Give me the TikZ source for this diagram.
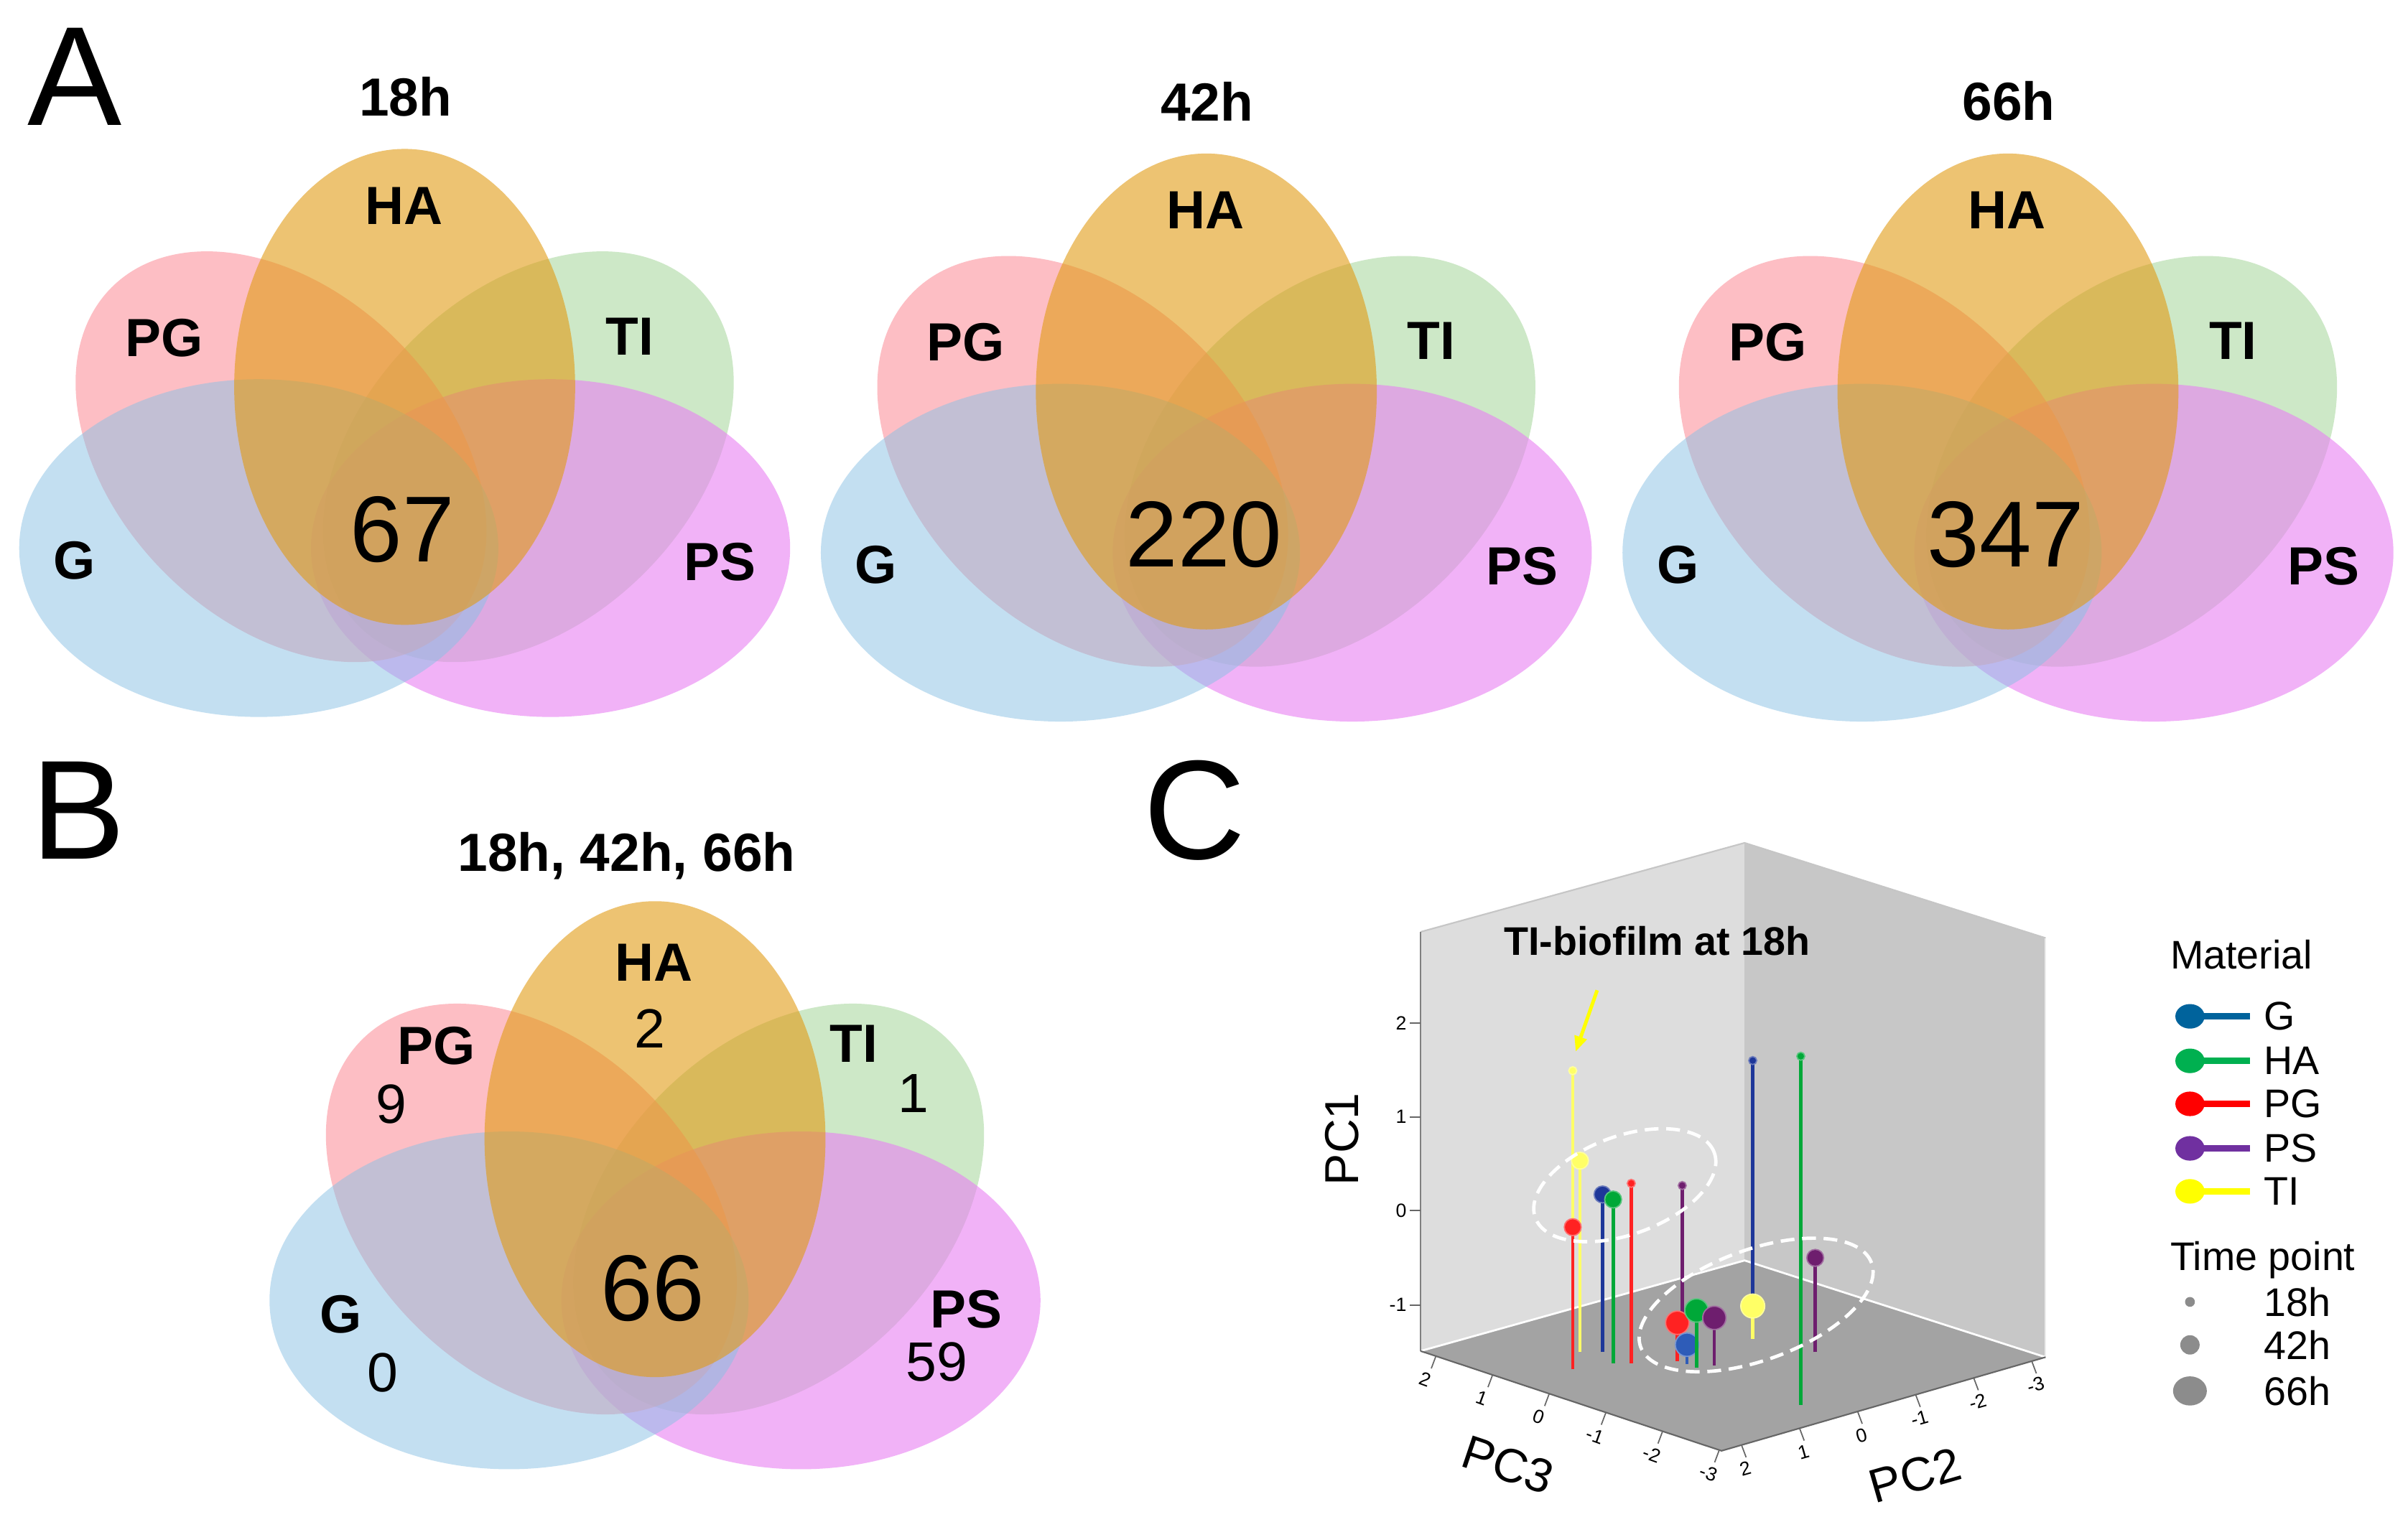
\documentclass[tikz,border=0pt]{standalone}
\usepackage{fontspec}
\setmainfont{Liberation Sans}
\usetikzlibrary{arrows.meta}

\definecolor{vG}{RGB}{137,193,229}
\definecolor{vPG}{RGB}{252,147,157}
\definecolor{vHA}{RGB}{225,155,20}
\definecolor{vTI}{RGB}{173,217,163}
\definecolor{vPS}{RGB}{233,127,243}
\definecolor{pG}{RGB}{30,55,153}
\definecolor{pGl}{RGB}{46,92,184}
\definecolor{pHA}{RGB}{0,168,56}
\definecolor{pPG}{RGB}{255,34,34}
\definecolor{pPS}{RGB}{110,30,110}
\definecolor{pTI}{RGB}{255,255,102}
\definecolor{lG}{RGB}{0,99,156}
\definecolor{lHA}{RGB}{0,176,80}
\definecolor{lPG}{RGB}{255,0,0}
\definecolor{lPS}{RGB}{112,48,160}
\definecolor{lTI}{RGB}{255,255,0}
\definecolor{lgray}{RGB}{140,140,140}
\definecolor{wallL}{RGB}{221,221,221}
\definecolor{wallR}{RGB}{199,199,199}
\definecolor{floorC}{RGB}{163,163,163}

\newcommand{\setfs}[1]{\fontsize{#1}{#1}\selectfont}

\newcommand{\vennshapes}[2]{%
 \begin{scope}[shift={(#1,#2)}]
  \begin{scope}[shift={(344,297.5)},rotate=45]\fill[vTI,fill opacity=.6] (0,0) ellipse [x radius=156pt,y radius=107pt];\end{scope}
  \fill[vPS,fill opacity=.6] (358.5,357) ellipse [x radius=156pt,y radius=110pt];
  \begin{scope}[shift={(183,297.5)},rotate=-45]\fill[vPG,fill opacity=.6] (0,0) ellipse [x radius=156pt,y radius=107pt];\end{scope}
  \fill[vG,fill opacity=.5] (168.5,357) ellipse [x radius=156pt,y radius=110pt];
  \fill[vHA,fill opacity=.6] (263.5,252) ellipse [x radius=111pt,y radius=155pt];
 \end{scope}}

\newcommand{\venntext}[5]{%
 \begin{scope}[shift={(#1,#2)}]
  \node[vlab] (#3t) at (264,63) {#4};
  \node[vlab] (#3HA) at (263,134) {HA};
  \node[vlab] (#3PG) at (107,220) {PG};
  \node[vlab] (#3TI) at (410,219) {TI};
  \node[vlab] (#3G) at (48.5,365) {G};
  \node[vlab] (#3PS) at (469,366) {PS};
  \node[vnum] (#3n) at (262,345) {#5};
 \end{scope}}

% color, dot color, x, top, bottom, radius
\newcommand{\lolli}[6]{%
  \draw[#1, line width=2.2pt] (#3,#5) -- (#3,#4);
  \fill[#2, draw=#2!65!white, line width=0.8pt] (#3,#4) circle[radius=#6pt];}

\begin{document}
\begin{tikzpicture}[x=1pt,y=-1pt,
  vlab/.style={font={\setfs{35}\bfseries}, inner sep=0pt},
  vnum/.style={font={\setfs{61}}, inner sep=0pt},
  bnum/.style={font={\setfs{36}}, inner sep=0pt},
  panel/.style={font={\setfs{92}}, inner sep=0pt},
  axl/.style={font={\setfs{31}}, inner sep=0pt},
  tickl/.style={font={\setfs{12.5}}, inner sep=0pt},
  leg/.style={font={\setfs{26}}, inner sep=0pt},
  dashell/.style={white, line width=2.2pt, dash pattern=on 9pt off 5pt}]
\useasboundingbox (0,0) rectangle (1568,988);
\fill[white] (0,0) rectangle (1568,988);

% ---------- panel letters
\node[panel] (labA) at (48.5,50) {A};
\node[panel] (labB) at (51,528) {B};
\node[panel] (labC) at (778,528) {C};

% ---------- panel A
\vennshapes{0}{0}
\vennshapes{522}{3}
\vennshapes{1044}{3}
\venntext{0}{0}{a}{18h}{67}
\venntext{522}{3}{b}{42h}{220}
\venntext{1044}{3}{c}{66h}{347}

% ---------- panel B
\vennshapes{163}{490}
\node[vlab, anchor=base] (bt) at (408,567.5) {18h, 42h, 66h};
\node[vlab] (bHA) at (426,627) {HA};
\node[bnum] (bHAn) at (423,670) {2};
\node[vlab] (bPG) at (284,681) {PG};
\node[bnum] (bPGn) at (255,719) {9};
\node[vlab] (bTI) at (556,680) {TI};
\node[bnum] (bTIn) at (595,712) {1};
\node[vlab] (bG) at (222,856) {G};
\node[bnum] (bGn) at (249,894) {0};
\node[vlab] (bPS) at (629,853) {PS};
\node[bnum] (bPSn) at (610,887) {59};
\node[vnum] (bn) at (425,839) {66};

% ---------- panel C: box
\coordinate (LT) at (925,607);
\coordinate (BT) at (1136,549);
\coordinate (RT) at (1332,611);
\coordinate (LB) at (925,880);
\coordinate (BB) at (1136,821);
\coordinate (RB) at (1332,884);
\coordinate (FB) at (1121,945);
\fill[wallL] (LT) -- (BT) -- (BB) -- (LB) -- cycle;
\fill[wallR] (BT) -- (RT) -- (RB) -- (BB) -- cycle;
\fill[floorC] (LB) -- (BB) -- (RB) -- (FB) -- cycle;
\draw[gray!45, line width=1pt] (LT) -- (BT) -- (RT);
\draw[white, line width=1.3pt] (LB) -- (BB) -- (RB);
\draw[white!85!gray, line width=1pt] (RT) -- (RB);
\draw[gray, line width=1pt] (LT) -- (LB);
\draw[gray!80!black, line width=1pt] (LB) -- (FB) -- (RB);

% PC1 ticks
\foreach \v/\yy in {2/666.5,1/727.5,0/788.5,-1/850}{
  \draw[gray!80!black, line width=0.8pt] (918,\yy) -- (925,\yy);
  \node[tickl, anchor=east] (pc1t\v) at (916,\yy) {\v};
}
% PC3 ticks
\foreach \v [count=\i from 0] in {2,1,0,-1,-2,-3}{
  \pgfmathsetmacro{\tx}{935+36.9*\i}
  \pgfmathsetmacro{\ty}{880+(\tx-925)*65/196}
  \draw[gray!80!black, line width=0.8pt] (\tx,\ty) -- ++(-3,8);
  \node[tickl, rotate=-20] (pc3t\i) at (\tx-7,\ty+15) {\v};
}
% PC2 ticks
\foreach \v [count=\i from 0] in {2,1,0,-1,-2,-3}{
  \pgfmathsetmacro{\tx}{1134+37.8*\i}
  \pgfmathsetmacro{\ty}{945-(\tx-1121)*61/211}
  \draw[gray!80!black, line width=0.8pt] (\tx,\ty) -- ++(3,8);
  \node[tickl, rotate=16] (pc2t\i) at (\tx+2.5,\ty+15.5) {\v};
}
\node[axl, rotate=90] (pc1) at (874,742) {PC1};
\node[axl, rotate=-18.6] (pc3) at (982,954) {PC3};
\node[axl, rotate=16] (pc2) at (1247,961) {PC2};

% lollipops (back to front)
\lolli{pTI}{pTI}{1024.1}{697.4}{880.7}{2.6}
\lolli{pTI}{pTI}{1028.8}{756}{880.7}{5.5}
\lolli{pPG}{pPG}{1024.1}{799.3}{892}{5.5}
\lolli{pG}{pG}{1043.5}{778}{880.7}{5.5}
\lolli{pHA}{pHA}{1050.4}{781.3}{887.9}{5.5}
\lolli{pPG}{pPG}{1062.2}{770.8}{887.9}{2.6}
\lolli{pPS}{pPS}{1095.4}{772.2}{879}{2.6}
\lolli{pG}{pG}{1141.3}{690.8}{845}{2.6}
\lolli{pHA}{pHA}{1172.6}{688}{915}{2.6}
\lolli{pPS}{pPS}{1182}{819.3}{880.7}{5.5}
\lolli{pTI}{pTI}{1141.3}{850.7}{872.2}{7.8}
\lolli{pPG}{pPG}{1092.2}{861.6}{886.4}{7.6}
\lolli{pGl}{pGl}{1098.5}{875.9}{888.4}{7.6}
\lolli{pHA}{pHA}{1104.7}{853.6}{890.7}{7.6}
\lolli{pPS}{pPS}{1116.3}{858.4}{889.3}{7.6}

% dashed group ellipses
\begin{scope}[shift={(1058,772)},rotate=20]
  \draw[dashell] (0,0) ellipse [x radius=62pt, y radius=32pt];
\end{scope}
\begin{scope}[shift={(1143.5,850)},rotate=20]
  \draw[dashell] (0,0) ellipse [x radius=80pt, y radius=36pt];
\end{scope}

% annotation
\node[font={\setfs{26}\bfseries}, inner sep=0pt] (ann) at (1079,613) {TI-biofilm at 18h};
\coordinate (arrS) at (1040,645);
\coordinate (arrE) at (1026,685);
\draw[lTI, line width=2.3pt, -{Triangle[length=10pt,width=8pt]}] (arrS) -- (arrE);

% ---------- legend
\node[leg, anchor=west] (mat) at (1413,622) {Material};
\foreach \nm/\col/\yy in {G/lG/662, HA/lHA/691, PG/lPG/719, PS/lPS/748, TI/lTI/776}{
  \draw[\col, line width=4.5pt] (1426,\yy) -- (1465,\yy);
  \fill[\col] (1426,\yy) ellipse [x radius=9.5pt, y radius=8pt];
  \node[leg, anchor=west] (leg\nm) at (1474,\yy) {\nm};
}
\node[leg, anchor=base west] (tp) at (1413,827.3) {Time point};
\fill[lgray] (1426,848) circle[radius=3.2pt];
\fill[lgray] (1426,876) circle[radius=6.3pt];
\fill[lgray] (1426,906) ellipse [x radius=11pt, y radius=9.5pt];
\node[leg, anchor=west] (t18) at (1474,848) {18h};
\node[leg, anchor=west] (t42) at (1474,876) {42h};
\node[leg, anchor=west] (t66) at (1474,906) {66h};
\end{tikzpicture}
\end{document}
